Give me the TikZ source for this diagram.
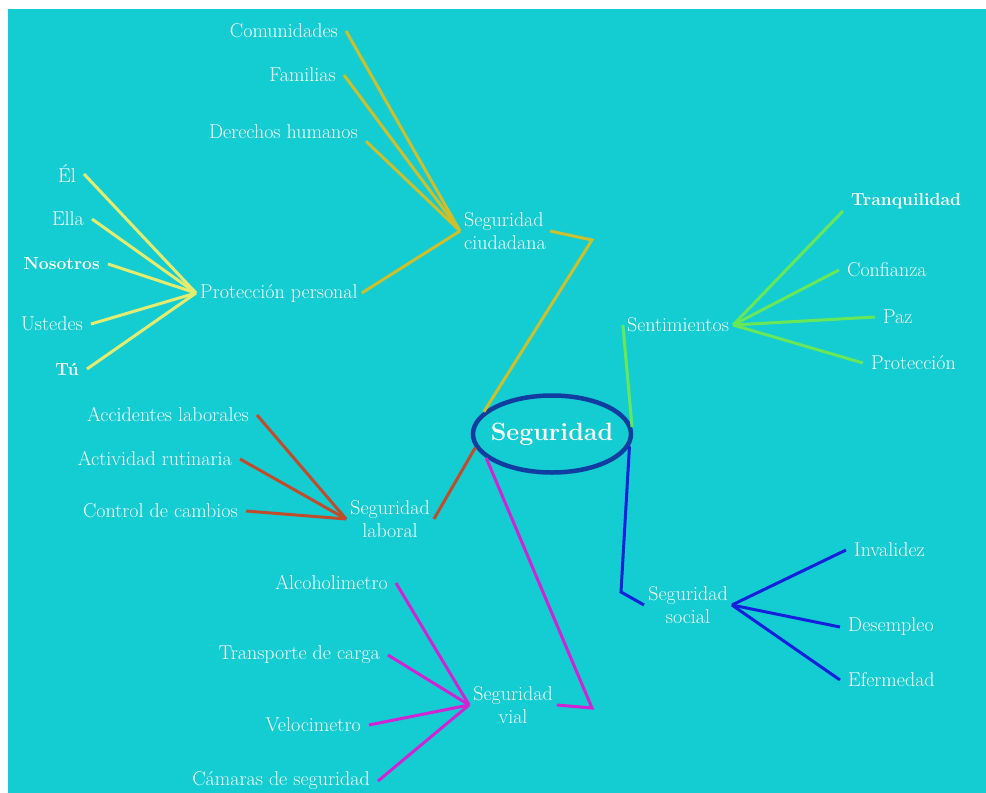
\documentclass[tikz,border=0pt]{standalone}
\usetikzlibrary{shapes.geometric}
\definecolor{fondo}{RGB}{19,205,211}
\definecolor{ciudad}{RGB}{204,192,44}
\definecolor{personal}{RGB}{228,236,112}
\definecolor{sentir}{RGB}{104,232,88}
\definecolor{laboral}{RGB}{192,76,44}
\definecolor{vial}{RGB}{208,36,212}
\definecolor{social}{RGB}{20,32,220}
\definecolor{centro}{RGB}{16,62,160}
\begin{document}
\begin{tikzpicture}[x=1pt,y=-1pt,
    hoja/.style={text=white,font=\fontsize{20}{23}\selectfont,inner xsep=8pt,inner ysep=2pt},
    negrita/.style={hoja,font=\bfseries\fontsize{17.5}{20}\selectfont},
    tema/.style={hoja,inner xsep=4pt},
    rama/.style={line width=3pt}]
    \useasboundingbox (0,0) rectangle (986,793);
    \fill [white] (0,0) rectangle (986,793);
    \fill [fondo] (8,9) rectangle (986,793);
    \node [ellipse,draw=centro,line width=4.5pt,minimum width=158pt,minimum height=77pt,inner sep=0pt,
        text=white,font=\bfseries\fontsize{25}{28}\selectfont] (seg) at (552,434) {\makebox[100pt]{Seguridad}};
    % seguridad ciudadana
    \node [tema,align=left,anchor=west] (ciu) at (460,231) {Seguridad\\ciudadana};
    \node [hoja,anchor=east] (com) at (346,31) {Comunidades};
    \node [hoja,anchor=east] (fam) at (344,75) {Familias};
    \node [hoja,anchor=east] (der) at (366,132) {Derechos humanos};
    \node [tema,anchor=west] (pro) at (196,293) {Protección personal};
    \draw [rama,ciudad] (com.east) -- (ciu.west);
    \draw [rama,ciudad] (fam.east) -- (ciu.west);
    \draw [rama,ciudad] (der.south east) -- (ciu.west);
    \draw [rama,ciudad] (pro.east) -- (ciu.west);
    \draw [rama,ciudad] (ciu.east) -- (592,240) -- (seg.162);
    % proteccion personal
    \node [hoja,anchor=east] (el) at (84,174) {Él};
    \node [hoja,anchor=east] (ella) at (92,219) {Ella};
    \node [negrita,anchor=east] (nos) at (108,264) {Nosotros};
    \node [hoja,anchor=east] (ust) at (91,324) {Ustedes};
    \node [negrita,anchor=east] (tu) at (87,369) {Tú};
    \draw [rama,personal] (el.east) -- (pro.west);
    \draw [rama,personal] (ella.east) -- (pro.west);
    \draw [rama,personal] (nos.east) -- (pro.west);
    \draw [rama,personal] (ust.east) -- (pro.west);
    \draw [rama,personal] (tu.east) -- (pro.west);
    % sentimientos
    \node [tema] (sen) at (678,325) {Sentimientos};
    \node [negrita,anchor=west] (tranq) at (843,201) {Tranquilidad};
    \node [hoja,anchor=west] (conf) at (839,270) {Confianza};
    \node [hoja,anchor=west] (paz) at (875,317) {Paz};
    \node [hoja,anchor=west] (prot) at (863,363) {Protección};
    \draw [rama,sentir] (seg.5) -- (sen.west);
    \draw [rama,sentir] (sen.east) -- (tranq.south west);
    \draw [rama,sentir] (sen.east) -- (conf.west);
    \draw [rama,sentir] (sen.east) -- (paz.west);
    \draw [rama,sentir] (sen.east) -- (prot.west);
    % seguridad laboral
    \node [tema,align=center] (lab) at (390,519) {Seguridad\\laboral};
    \node [hoja,anchor=east] (acc) at (257,415) {Accidentes laborales};
    \node [hoja,anchor=east] (act) at (240,459) {Actividad rutinaria};
    \node [hoja,anchor=east] (con) at (246,511) {Control de cambios};
    \draw [rama,laboral] (seg.190) -- (lab.east);
    \draw [rama,laboral] (acc.east) -- (lab.west);
    \draw [rama,laboral] (act.east) -- (lab.west);
    \draw [rama,laboral] (con.east) -- (lab.west);
    % seguridad vial
    \node [tema,align=center] (via) at (513,705) {Seguridad\\vial};
    \node [hoja,anchor=east] (alc) at (396,583) {Alcoholimetro};
    \node [hoja,anchor=east] (tra) at (388,655) {Transporte de carga};
    \node [hoja,anchor=east] (vel) at (369,725) {Velocimetro};
    \node [hoja,anchor=east] (cam) at (378,781) {Cámaras de seguridad};
    \draw [rama,vial] (seg.200) -- (592,708) -- (via.east);
    \draw [rama,vial] (alc.east) -- (via.west);
    \draw [rama,vial] (tra.east) -- (via.west);
    \draw [rama,vial] (vel.east) -- (via.west);
    \draw [rama,vial] (cam.east) -- (via.west);
    % seguridad social
    \node [tema,align=center] (soc) at (688,605) {Seguridad\\social};
    \node [hoja,anchor=west] (inv) at (846,550) {Invalidez};
    \node [hoja,anchor=west] (des) at (840,627) {Desempleo};
    \node [hoja,anchor=west] (enf) at (840,680) {Efermedad};
    \draw [rama,social] (seg.-9) -- (621,592) -- (soc.west);
    \draw [rama,social] (soc.east) -- (inv.west);
    \draw [rama,social] (soc.east) -- (des.west);
    \draw [rama,social] (soc.east) -- (enf.west);
\end{tikzpicture}
\end{document}
